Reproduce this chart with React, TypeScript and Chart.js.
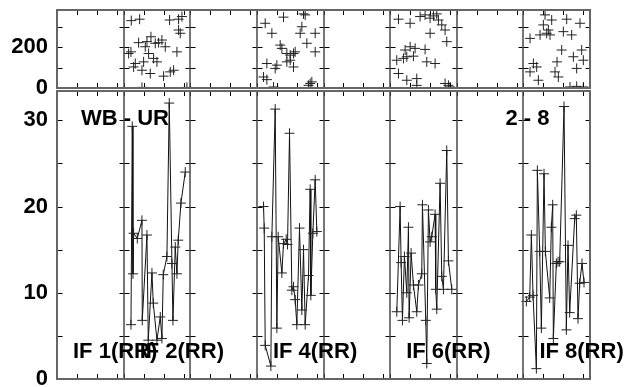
import React, { useEffect, useRef } from "react";
import { Chart, registerables } from "chart.js";
Chart.register(...registerables);

// ---- layout constants (scales) ----
const PANEL_COUNT = 8;
const PANEL_SPAN = 100;
const X_TICK_OFFSETS = [0, 30, 60, 90];

const topYMax = 382;
const topYTicks = [0, 200];
const topMinorStep = 100;

const botYMax = 33.4;
const botYTicks = [0, 10, 20, 30];
const botMinorStep = 5;

// ---- text ----
const panelLabels = ["IF 1(RR)", "IF 2(RR)", "IF 4(RR)", "IF 6(RR)", "IF 8(RR)"];
const panelLabelIndex = [0, 1, 3, 5, 7];
const cornerLeftLabel = "WB - UR";
const cornerRightLabel = "2 - 8";

// ---- data: panel index (0-based) ----
const seriesPanels = [1, 3, 5, 7];

// top scatter, panel 2
const p2TopX = [11.5, 24, 41, 22.5, 11, 7.5, 32.5, 37.5, 45, 30, 17.5, 27.5, 40, 50, 52.5, 57.5, 62.5, 60, 70, 75, 69, 82.5, 87.5, 82.5, 85, 80, 27.5, 95, 15, 47.5, 35];
const p2TopY = [330, 337, 251, 222, 177, 169, 202, 169, 145, 128, 120, 87, 71, 128, 222, 235, 202, 58, 79, 87, 333, 337, 350, 284, 268, 177, 3, 3, 103, 219, 227];
// top scatter, panel 4
const p4TopX = [12.5, 22.5, 40, 70, 72.5, 67.5, 65, 87.5, 75, 35, 37.5, 45, 50, 55, 57.5, 87.5, 50, 45, 55, 15, 30, 27.5, 10, 15, 25, 82.5, 77.5, 80];
const p4TopY = [317, 268, 347, 363, 358, 300, 268, 268, 219, 210, 194, 169, 161, 169, 177, 177, 136, 128, 103, 120, 112, 96, 54, 41, 5, 30, 13, 22];
// top scatter, panel 6
const p6TopX = [12.5, 30, 45, 52.5, 60, 65, 70, 72.5, 77.5, 82.5, 60, 85, 52.5, 22.5, 30, 37.5, 25, 35, 20, 10, 55, 67.5, 12.5, 25, 40, 40, 82.5, 87.5, 90];
const p6TopY = [337, 317, 350, 358, 342, 353, 363, 333, 309, 284, 268, 227, 189, 186, 202, 194, 153, 156, 145, 136, 128, 120, 71, 38, 46, 13, 22, 13, 5];
// top scatter, panel 8
const p8TopX = [32.5, 42.5, 65, 85, 30, 37.5, 35, 60, 72.5, 25, 10, 40, 57.5, 75, 87.5, 90, 50.5, 15, 20, 80, 10, 22.5, 47.5, 52.5, 70, 80, 90];
const p8TopY = [358, 333, 337, 317, 309, 284, 268, 276, 260, 260, 243, 260, 186, 153, 186, 136, 128, 120, 103, 96, 79, 38, 79, 54, 5, 8, 5];

// bottom line series, panel 2
const p2BotX = [11, 13, 14, 15, 20.5, 27.5, 28, 35, 37, 42.5, 44.5, 50, 55, 57.5, 59.5, 65, 68.5, 72.5, 74, 77.5, 80, 82, 86, 92.5];
const p2BotY = [6.3, 29.3, 12.2, 16.9, 16.3, 18.4, 6.8, 16.7, 4.5, 12.3, 8.8, 4.5, 7.2, 4.7, 12.1, 14.2, 32, 13.4, 6.8, 15.3, 12.2, 16.1, 20.4, 24];
// bottom line series, panel 4
const p4BotX = [10, 11, 12.5, 21, 22.5, 27.5, 30, 32, 37.5, 40, 44, 46, 49, 52.5, 55, 57.5, 60, 64, 67.5, 70, 72.5, 77.5, 80, 81, 84, 87.5, 90];
const p4BotY = [20.0, 17.5, 3.9, 1.5, 16.5, 31.3, 5.9, 16.5, 12.3, 15.7, 16.2, 15.6, 28.5, 10.3, 10.7, 9.2, 6.3, 17.5, 8.0, 15.0, 6.3, 12.0, 22.0, 9.7, 16.9, 23.1, 17.1];
// bottom line series, panel 6
const p6BotX = [10, 15, 16.5, 18.5, 21.5, 25, 27.5, 28.5, 31.5, 35, 40, 42.5, 47.5, 48.5, 53.5, 55, 57.5, 60, 62.5, 67.5, 68.5, 70, 75, 77.5, 80, 85, 87.5, 92.5];
const p6BotY = [7.8, 20.0, 13.5, 6.8, 14.2, 10.0, 17.6, 7.1, 14.6, 10.9, 7.8, 10.9, 12.2, 20.2, 6.8, 1.8, 19.6, 15.9, 16.5, 19.1, 10.4, 8.1, 22.7, 11.9, 10.4, 26.5, 13.7, 10.4];
// bottom line series, panel 8
const p8BotX = [4.5, 9.5, 12, 14.5, 19.5, 21, 24.5, 27, 31, 33, 39.5, 42, 44, 45, 49.5, 52, 54.5, 61, 64.5, 67, 69.5, 77, 79.5, 82, 84.5, 88, 91];
const p8BotY = [9.0, 9.5, 16.7, 9.7, 1.2, 24.2, 14.8, 5.9, 23.8, 14.8, 9.4, 17.6, 20.2, 4.7, 13.4, 13.6, 13.6, 31.6, 5.7, 15.5, 7.7, 18.6, 19.0, 7.0, 11.1, 13.4, 11.2];

const topSeries = [
  [p2TopX, p2TopY],
  [p4TopX, p4TopY],
  [p6TopX, p6TopY],
  [p8TopX, p8TopY],
];
const botSeries = [
  [p2BotX, p2BotY],
  [p4BotX, p4BotY],
  [p6BotX, p6BotY],
  [p8BotX, p8BotY],
];

const FONT = '"Liberation Sans", Arial, Helvetica, sans-serif';

function toPoints(panel: number, xs: number[], ys: number[]) {
  return xs.map((x, i) => ({ x: panel * PANEL_SPAN + x, y: ys[i] }));
}

function makeFramePlugin(minorStep: number, drawLabels: boolean) {
  return {
    id: "frame",
    afterDraw(chart: any) {
      const { ctx, chartArea: a, scales } = chart;
      const xs = scales.x;
      const ys = scales.y;
      ctx.save();
      // tick marks
      ctx.strokeStyle = "#000";
      ctx.lineWidth = 1;
      ctx.beginPath();
      for (let i = 0; i <= PANEL_COUNT; i++) {
        const px = Math.round(xs.getPixelForValue(i * PANEL_SPAN)) + 0.5;
        for (let v = 0; v <= ys.max + 1e-9; v += minorStep) {
          const py = Math.round(ys.getPixelForValue(v)) + 0.5;
          const l = i === 0 ? 0 : -5;
          const r = i === PANEL_COUNT ? 0 : 5;
          ctx.moveTo(px + l, py);
          ctx.lineTo(px + r, py);
        }
        if (i < PANEL_COUNT) {
          for (const o of X_TICK_OFFSETS) {
            const tx = Math.round(xs.getPixelForValue(i * PANEL_SPAN + o)) + 0.5;
            ctx.moveTo(tx, a.top);
            ctx.lineTo(tx, a.top + 5);
            ctx.moveTo(tx, a.bottom);
            ctx.lineTo(tx, a.bottom - 5);
          }
        }
      }
      ctx.stroke();
      // panel separators
      ctx.strokeStyle = "#4a4a4a";
      ctx.lineWidth = 1.5;
      ctx.beginPath();
      for (let i = 1; i < PANEL_COUNT; i++) {
        const px = Math.round(xs.getPixelForValue(i * PANEL_SPAN));
        ctx.moveTo(px, a.top);
        ctx.lineTo(px, a.bottom);
      }
      ctx.stroke();
      // outer frame
      ctx.strokeStyle = "#666";
      ctx.lineWidth = 2;
      ctx.strokeRect(a.left, a.top, a.right - a.left, a.bottom - a.top);

      if (drawLabels) {
        ctx.fillStyle = "#000";
        ctx.font = `bold 22px ${FONT}`;
        ctx.textAlign = "left";
        ctx.textBaseline = "alphabetic";
        panelLabels.forEach((t, k) => {
          const px = xs.getPixelForValue(panelLabelIndex[k] * PANEL_SPAN) + 16;
          ctx.fillText(t, px, a.bottom - 21);
        });
        ctx.fillText(cornerLeftLabel, a.left + 24, a.top + 34);
        ctx.fillText(cornerRightLabel, xs.getPixelForValue((PANEL_COUNT - 1) * PANEL_SPAN) - 18, a.top + 34);
      }
      ctx.restore();
    },
  };
}

function yAxis(max: number, ticks: number[]) {
  return {
    type: "linear",
    min: 0,
    max,
    afterBuildTicks: (s: any) => {
      s.ticks = ticks.map((v) => ({ value: v }));
    },
    afterFit: (s: any) => {
      s.width = 57;
      s.paddingTop = 0;
      s.paddingBottom = 0;
    },
    grid: { display: false, drawTicks: false },
    border: { display: false },
    ticks: {
      padding: 9,
      color: "#000",
      font: { family: FONT, size: 22, weight: "bold" },
    },
  };
}

export default function App() {
  const topRef = useRef<HTMLCanvasElement | null>(null);
  const botRef = useRef<HTMLCanvasElement | null>(null);

  useEffect(() => {
    document.body.style.margin = "0";
    const common = {
      animation: false,
      responsive: false,
      events: [],
      plugins: { legend: { display: false }, tooltip: { enabled: false } },
    };

    const top = new Chart(topRef.current as HTMLCanvasElement, {
      type: "scatter",
      data: {
        datasets: topSeries.map(([xs, ys], k) => ({
          data: toPoints(seriesPanels[k], xs, ys),
          showLine: false,
          pointStyle: "cross",
          pointRadius: 5,
          pointBorderColor: "#222",
          pointBorderWidth: 1,
          borderColor: "#222",
        })),
      },
      options: {
        ...common,
        layout: { padding: { left: 0, right: 42, top: 10, bottom: 299 } },
        scales: {
          x: { type: "linear", min: 0, max: PANEL_COUNT * PANEL_SPAN, display: false },
          y: yAxis(topYMax, topYTicks),
        },
      } as any,
      plugins: [makeFramePlugin(topMinorStep, false)],
    } as any);

    const bot = new Chart(botRef.current as HTMLCanvasElement, {
      type: "line",
      data: {
        datasets: botSeries.map(([xs, ys], k) => ({
          data: toPoints(seriesPanels[k], xs, ys),
          borderColor: "#111",
          borderWidth: 1,
          tension: 0,
          fill: false,
          pointStyle: "cross",
          pointRadius: 5,
          pointBorderColor: "#222",
          pointBorderWidth: 1,
        })),
      },
      options: {
        ...common,
        layout: { padding: { left: 0, right: 42, top: 91, bottom: 8 } },
        scales: {
          x: { type: "linear", min: 0, max: PANEL_COUNT * PANEL_SPAN, display: false },
          y: yAxis(botYMax, botYTicks),
        },
      } as any,
      plugins: [makeFramePlugin(botMinorStep, true)],
    } as any);

    return () => {
      top.destroy();
      bot.destroy();
    };
  }, []);

  const cstyle: React.CSSProperties = { position: "absolute", left: 0, top: 0 };
  return (
    <div style={{ position: "relative", width: 632, height: 387, background: "#fff" }}>
      <canvas ref={botRef} width={632} height={387} style={cstyle} />
      <canvas ref={topRef} width={632} height={387} style={cstyle} />
    </div>
  );
}
